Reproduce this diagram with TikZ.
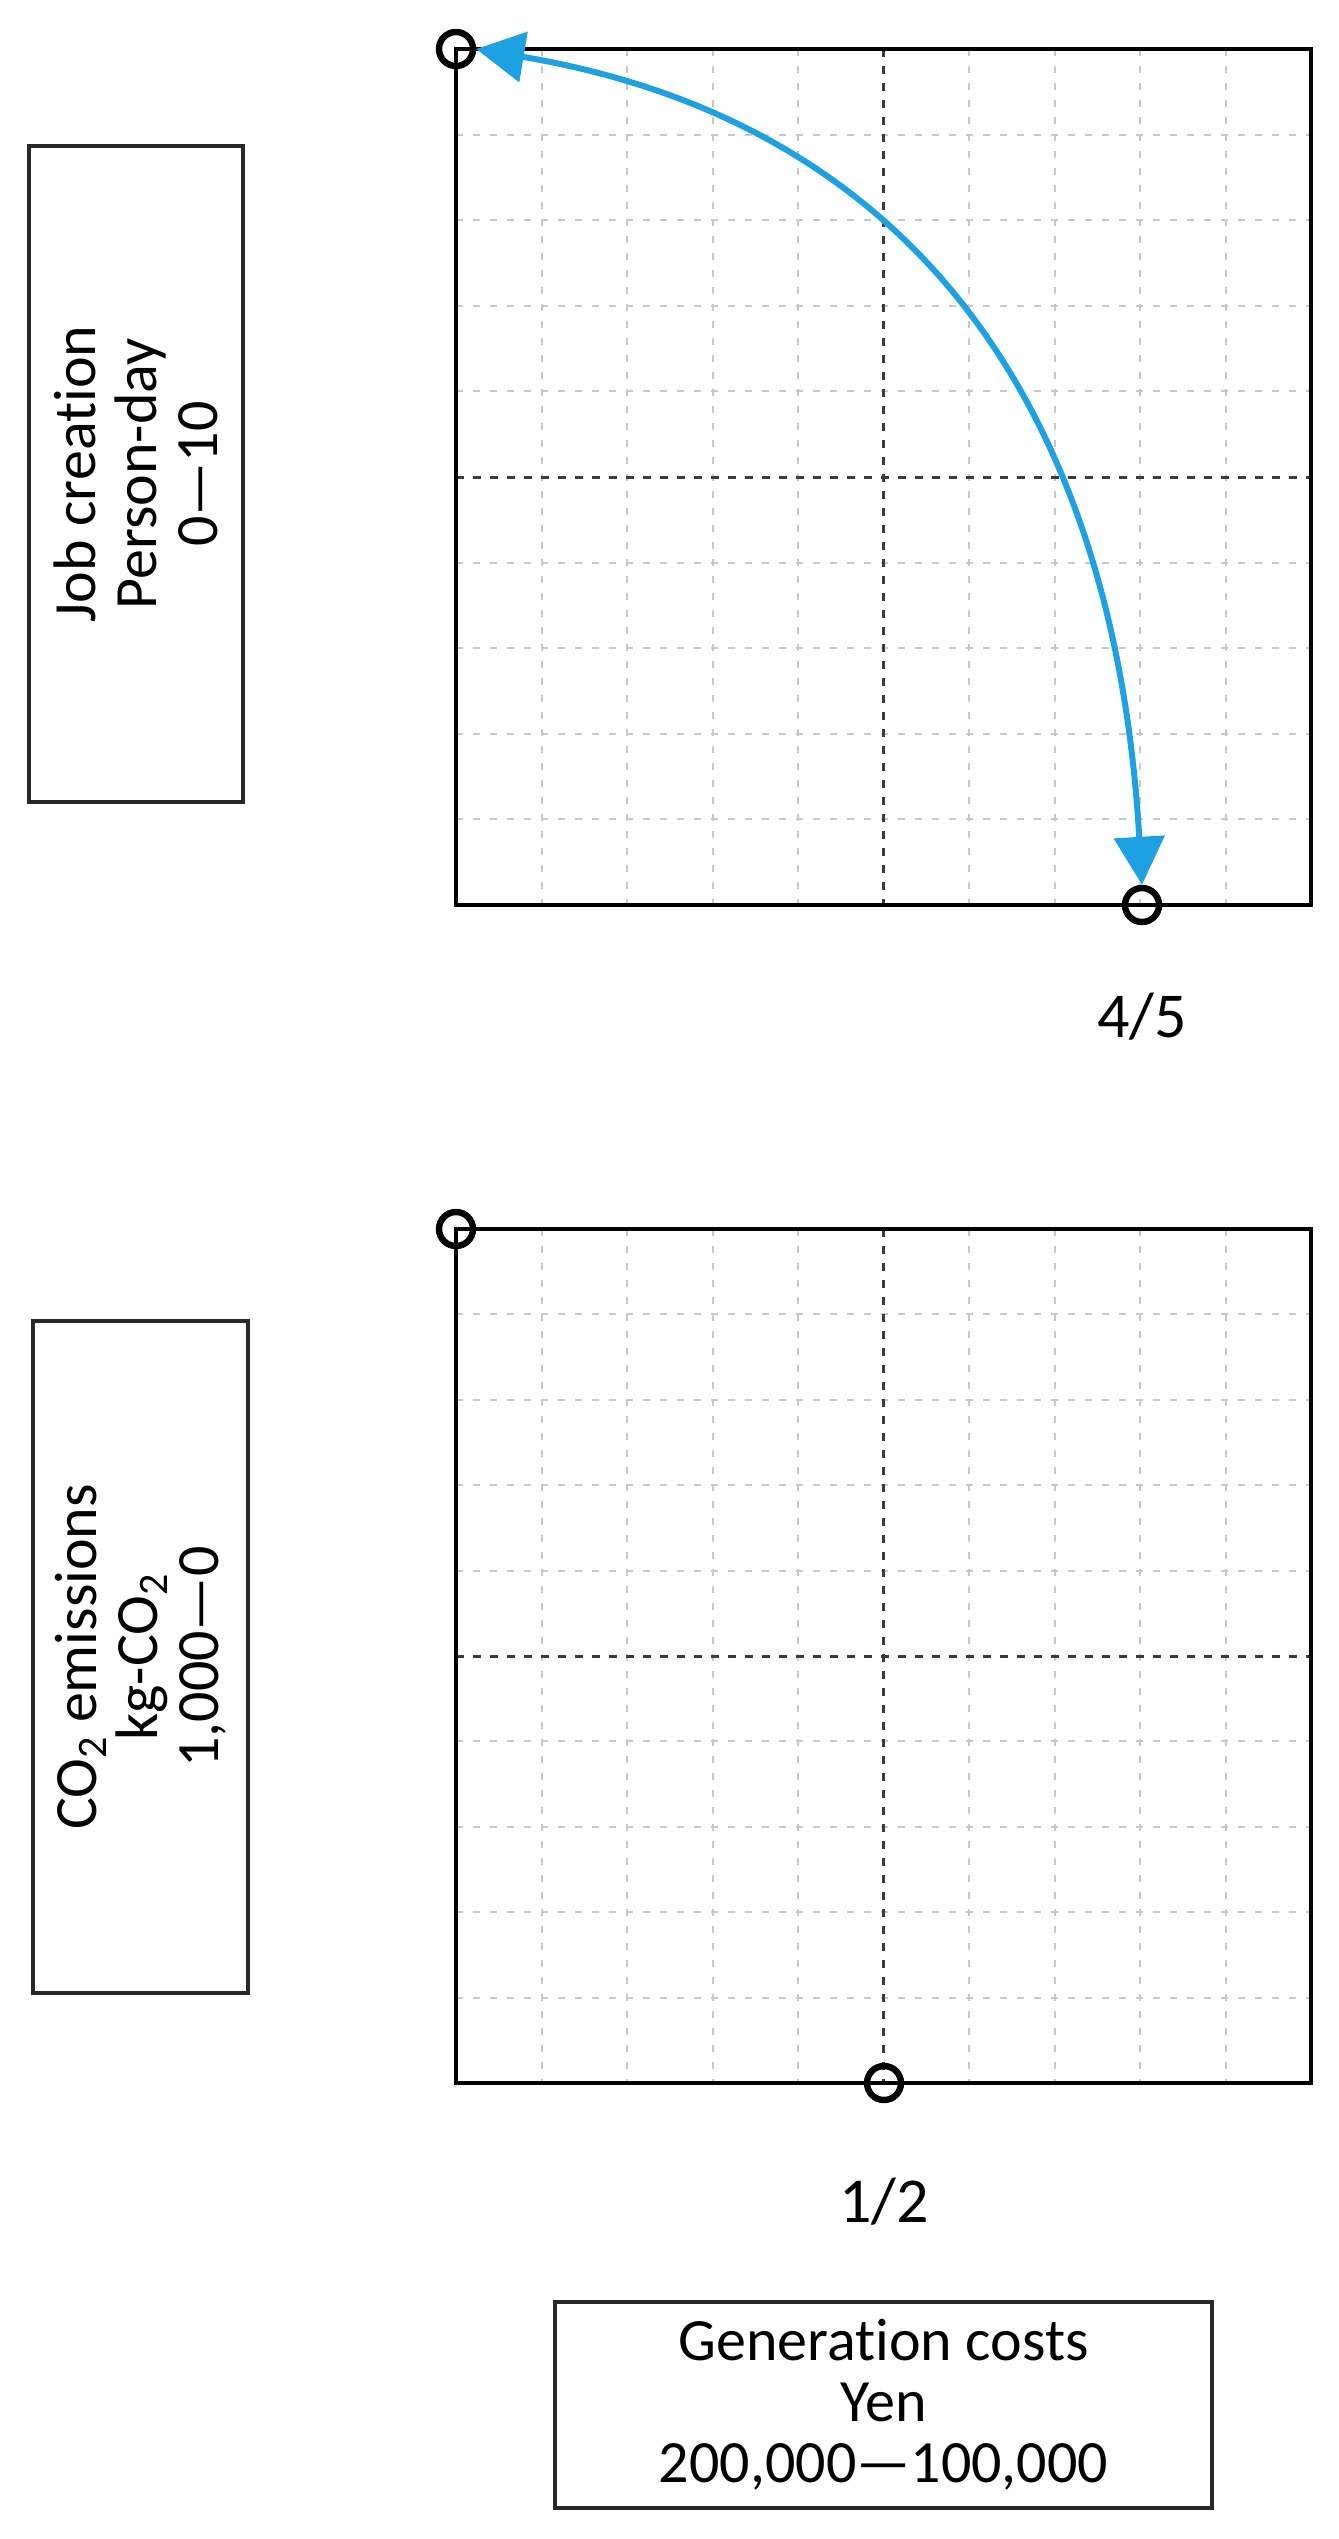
\documentclass[tikz,border=0pt]{standalone}
\usepackage{fontspec}
\setmainfont{Carlito}[Ligatures={TeX,NoCommon}]
\usetikzlibrary{arrows.meta}
\definecolor{arrowblue}{RGB}{29,161,226}
\definecolor{gridgray}{RGB}{200,200,200}
\definecolor{centergray}{RGB}{60,60,60}
\definecolor{boxgray}{RGB}{40,40,40}
\begin{document}
\begin{tikzpicture}[x=0.5pt,y=-0.5pt,
  chartborder/.style={draw=black,line width=2pt},
  gridline/.style={draw=gridgray,line width=1pt,dash pattern=on 3.5pt off 5pt},
  centerline/.style={draw=centergray,line width=1.5pt,dash pattern=on 4pt off 4.5pt},
  labelbox/.style={draw=boxgray,line width=2pt,align=center,font=\fontsize{30pt}{30.5pt}\selectfont,inner sep=0pt},
  valuelabel/.style={font=\fontsize{32pt}{34pt}\selectfont,anchor=base,inner sep=0pt},
  marker/.style={circle,draw=black,line width=3.2pt,minimum size=17pt,inner sep=0pt},
  tradeoff/.style={draw=arrowblue,line width=3pt,{Triangle[length=24pt,width=25pt]}-{Triangle[length=24pt,width=25pt]}}
]
\useasboundingbox (0,0) rectangle (1339,2539);

% top chart
\foreach \i in {1,2,3,4,6,7,8,9} {
  \draw[gridline] ({456+85.5*\i},49) -- ({456+85.5*\i},905);
  \draw[gridline] (456,{49+85.6*\i}) -- (1311,{49+85.6*\i});
}
\draw[centerline] (883.5,49) -- (883.5,905);
\draw[centerline] (456,477) -- (1311,477);
\draw[chartborder] (456,49) rectangle (1311,905);

% bottom chart
\foreach \i in {1,2,3,4,6,7,8,9} {
  \draw[gridline] ({456+85.5*\i},1229) -- ({456+85.5*\i},2083);
  \draw[gridline] (456,{1229+85.4*\i}) -- (1311,{1229+85.4*\i});
}
\draw[centerline] (883.5,1229) -- (883.5,2083);
\draw[centerline] (456,1656) -- (1311,1656);
\draw[chartborder] (456,1229) rectangle (1311,2083);

% markers
\node[marker] (jc0) at (456,49) {};
\node[marker] (jc45) at (1142,905) {};
\node[marker] (co0) at (456,1229) {};
\node[marker] (gc12) at (884,2083) {};

% trade-off arrow
\draw[tradeoff] (jc45.north) .. controls (1115,418) and (921,124) .. (jc0.east);

% value labels
\node[valuelabel] (v45) at (1142,1037) {4/5};
\node[valuelabel] (v12) at (884,2222) {1/2};

% axis boxes
\node[labelbox,rotate=90,minimum width=328pt,minimum height=107pt] (jobbox) at (136,474) {Job creation\\Person-day\\0—10};
\node[labelbox,rotate=90,minimum width=336pt,minimum height=107.5pt] (co2box) at (140.5,1657) {CO\textsubscript{2} emissions\\kg-CO\textsubscript{2}\\1,000—0};
\node[labelbox,minimum width=328.5pt,minimum height=103pt] (costbox) at (883.5,2405) {Generation costs\\Yen\\200,000—100,000};
\end{tikzpicture}
\end{document}
